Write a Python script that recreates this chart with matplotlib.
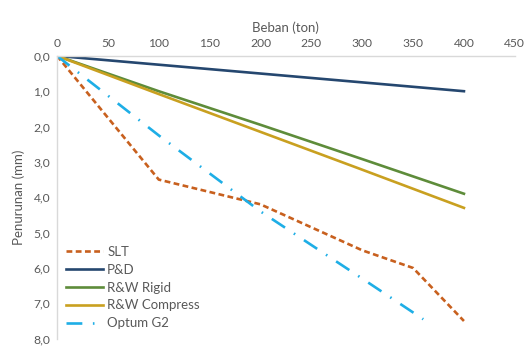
import matplotlib.pyplot as plt
from matplotlib.ticker import FuncFormatter

plt.rcParams["font.family"] = ["Lato", "DejaVu Sans"]

# data
slt_load = [0, 100, 200, 300, 350, 400]
slt_settle = [0.0, 3.5, 4.2, 5.5, 6.0, 7.5]

pd_load = [0, 100, 200, 300, 400]
pd_settle = [0.0, 0.25, 0.5, 0.75, 1.0]

rigid_load = [0, 100, 200, 300, 400]
rigid_settle = [0.0, 1.0, 1.95, 2.92, 3.9]

compress_load = [0, 100, 200, 300, 400]
compress_settle = [0.0, 1.08, 2.15, 3.22, 4.3]

optum_load = [0, 100, 200, 300, 360]
optum_settle = [0.0, 2.25, 4.4, 6.3, 7.45]

x_ticks = [0, 50, 100, 150, 200, 250, 300, 350, 400, 450]
y_ticks = [0, 1, 2, 3, 4, 5, 6, 7, 8]

TEXT_GRAY = "#595959"

fig = plt.figure(figsize=(5.28, 3.47), dpi=100)
ax = fig.add_axes([0.108, 0.024, 0.867, 0.815])

ax.plot(slt_load, slt_settle, color="#C8601E", lw=1.9, ls=(0, (2.2, 1.3)), label="SLT")
ax.plot(pd_load, pd_settle, color="#25476F", lw=1.9, label="P&D")
ax.plot(rigid_load, rigid_settle, color="#5E8C3A", lw=1.9, label="R&W Rigid")
ax.plot(compress_load, compress_settle, color="#C9A020", lw=1.9, label="R&W Compress")
ax.plot(optum_load, optum_settle, color="#1EAEE6", lw=1.9,
        ls=(0, (6, 4, 0.6, 4)), label="Optum G2")

ax.set_xlim(0, 450)
ax.set_ylim(8, 0)
ax.set_xticks(x_ticks)
ax.set_yticks(y_ticks)
ax.yaxis.set_major_formatter(FuncFormatter(lambda v, p: f"{v:.1f}".replace(".", ",")))

ax.xaxis.tick_top()
ax.xaxis.set_label_position("top")
ax.set_xlabel("Beban (ton)", fontsize=9.5, color=TEXT_GRAY, labelpad=4)
ax.set_ylabel("Penurunan (mm)", fontsize=9.5, color=TEXT_GRAY, labelpad=6)
ax.tick_params(axis="both", length=0, labelsize=8.7, labelcolor=TEXT_GRAY, pad=5)

for side in ["right", "bottom"]:
    ax.spines[side].set_visible(False)
for side in ["left", "top"]:
    ax.spines[side].set_color("#D9D9D9")
    ax.spines[side].set_linewidth(1.0)

legend = ax.legend(loc="lower left", bbox_to_anchor=(0.0, 0.0), frameon=False,
                   fontsize=9.5, handlelength=2.8, handletextpad=0.3,
                   labelspacing=0.45, borderaxespad=0.3)
for text in legend.get_texts():
    text.set_color(TEXT_GRAY)

fig.savefig("out.png", dpi=100)
